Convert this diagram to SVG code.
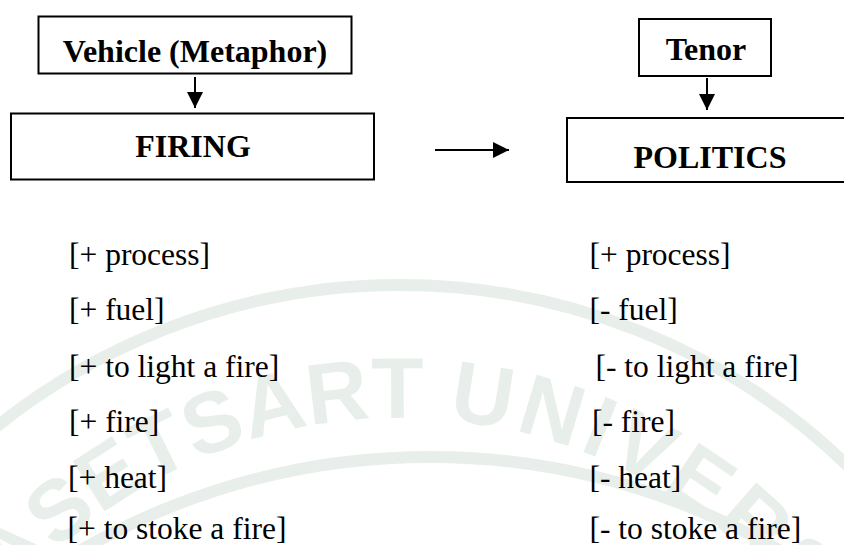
<svg xmlns="http://www.w3.org/2000/svg" width="844" height="545" viewBox="0 0 844 545">
  <style>
    .box { fill: none; stroke: #000; stroke-width: 2; }
    .head { font-family: "Liberation Serif", "Times New Roman", serif; font-weight: bold; font-size: 32px; fill: #000; text-anchor: middle; }
    .feat { font-family: "Liberation Serif", "Times New Roman", serif; font-size: 31.5px; fill: #000; }
    .link { stroke: #000; stroke-width: 2; fill: none; }
    .seal { fill: none; stroke: #e8efea; stroke-width: 12; }
    .seal-text { font-family: "Liberation Sans", Arial, sans-serif; font-weight: bold; font-size: 86px; fill: #e8efea; }
  </style>
  <defs>
    <marker id="arrow" viewBox="0 0 16 16" refX="16" refY="8" markerWidth="16" markerHeight="16" markerUnits="userSpaceOnUse" orient="auto">
      <path d="M0,0 L16,8 L0,16 Z" fill="#000"/>
    </marker>
    <path id="seal-arc" d="M -112 930 A 512 512 0 0 1 912 930"/>
  </defs>
  <rect width="844" height="545" fill="#fff"/>

  <!-- faint background seal -->
  <g id="watermark">
    <circle class="seal" cx="400" cy="930" r="645"/>
    <circle class="seal" cx="430" cy="1157" r="700"/>
    <text class="seal-text"><textPath href="#seal-arc" startOffset="828" text-anchor="end">KASETSART</textPath></text>
    <text class="seal-text" letter-spacing="5"><textPath href="#seal-arc" startOffset="852">UNIVERSITY</textPath></text>
  </g>

  <g id="vehicle">
    <rect class="box" x="38.5" y="16.5" width="313" height="57"/>
    <text class="head" x="195" y="61.5">Vehicle (Metaphor)</text>
  </g>
  <g id="firing">
    <rect class="box" x="11" y="113.5" width="363" height="66"/>
    <text class="head" x="193" y="156.5">FIRING</text>
  </g>
  <g id="tenor">
    <rect class="box" x="639" y="19" width="132" height="57"/>
    <text class="head" x="706" y="60" font-size="30">Tenor</text>
  </g>
  <g id="politics">
    <rect class="box" x="567" y="118" width="300" height="64"/>
    <text class="head" x="710" y="167.5">POLITICS</text>
  </g>

  <g id="connectors">
    <line class="link" x1="195" y1="77" x2="195" y2="108" marker-end="url(#arrow)"/>
    <line class="link" x1="707" y1="78" x2="707" y2="110" marker-end="url(#arrow)"/>
    <line class="link" x1="435" y1="150" x2="509" y2="150" marker-end="url(#arrow)"/>
  </g>

  <g id="vehicle-features" class="feat">
    <text x="69" y="265">[+ process]</text>
    <text x="69" y="319.5">[+ fuel]</text>
    <text x="69" y="377">[+ to light a fire]</text>
    <text x="69" y="431.5">[+ fire]</text>
    <text x="68" y="487.5">[+ heat]</text>
    <text x="67.5" y="539">[+ to stoke a fire]</text>
  </g>
  <g id="tenor-features" class="feat">
    <text x="589.5" y="265">[+ process]</text>
    <text x="589.5" y="319.5">[- fuel]</text>
    <text x="595.5" y="377">[- to light a fire]</text>
    <text x="592" y="431.5">[- fire]</text>
    <text x="589.5" y="487.5">[- heat]</text>
    <text x="589.5" y="539">[- to stoke a fire]</text>
  </g>
</svg>
